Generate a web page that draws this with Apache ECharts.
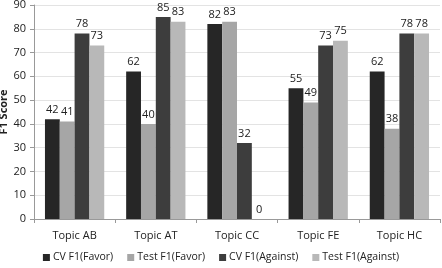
<!DOCTYPE html>
<html>
<head>
<meta charset="utf-8">
<script src="https://cdn.jsdelivr.net/npm/echarts@6/dist/echarts.min.js"></script>
<style>
  html, body { margin: 0; padding: 0; background: #fff; }
  #chart { width: 442px; height: 268px; }
</style>
</head>
<body>
<div id="chart"></div>
<script>
var topics = ['Topic AB', 'Topic AT', 'Topic CC', 'Topic FE', 'Topic HC'];
var cvFavor = [42, 62, 82, 55, 62];
var testFavor = [41, 40, 83, 49, 38];
var cvAgainst = [78, 85, 32, 73, 78];
var testAgainst = [73, 83, 0, 75, 78];
var seriesNames = ['CV F1(Favor)', 'Test F1(Favor)', 'CV F1(Against)', 'Test F1(Against)'];
var seriesColors = ['#262626', '#a6a6a6', '#3d3d3d', '#b8b8b8'];

var chart = echarts.init(document.getElementById('chart'));

var font = 'Open Sans';
var allData = [cvFavor, testFavor, cvAgainst, testAgainst];
var seriesList = [];
for (var i = 0; i < allData.length; i++) {
    seriesList.push({
        name: seriesNames[i],
        type: 'bar',
        data: allData[i],
        barGap: '0%',
        barCategoryGap: '27%',
        itemStyle: { color: seriesColors[i] },
        label: {
            show: true,
            position: 'top',
            distance: 4,
            color: '#222',
            fontSize: 11,
            fontFamily: font
        }
    });
}

var option = {
    animation: false,
    backgroundColor: '#fff',
    grid: { left: 34, right: 2, top: 5, bottom: 49, outerBoundsMode: 'none', containLabel: false },
    // y axis title, drawn by hand so it can sit half off the left edge like the original
    graphic: [{
        type: 'text',
        x: 4,
        y: 112,
        rotation: Math.PI / 2,
        style: {
            text: 'F1 Score',
            fontSize: 11,
            fontWeight: 'bold',
            fill: '#222',
            fontFamily: font,
            align: 'center',
            verticalAlign: 'middle'
        }
    }],
    legend: {
        data: seriesNames,
        bottom: 0,
        left: 'center',
        itemWidth: 7,
        itemHeight: 7,
        itemGap: 14,
        icon: 'rect',
        textStyle: { fontSize: 10.5, color: '#222', fontFamily: font, padding: [0, 0, 0, -2] }
    },
    xAxis: {
        type: 'category',
        data: topics,
        axisLine: { lineStyle: { color: '#999' } },
        axisTick: { show: true, length: 4, lineStyle: { color: '#999' } },
        axisLabel: { color: '#222', fontSize: 11, fontFamily: font, margin: 11 }
    },
    yAxis: {
        type: 'value',
        min: 0,
        max: 90,
        interval: 10,
        axisLine: { show: true, lineStyle: { color: '#999' } },
        axisTick: { show: true, length: 4, lineStyle: { color: '#999' } },
        axisLabel: { color: '#222', fontSize: 11, fontFamily: font, margin: 8 },
        splitLine: { lineStyle: { color: '#e3e3e3' } }
    },
    series: seriesList
};
chart.setOption(option);
</script>
</body>
</html>
